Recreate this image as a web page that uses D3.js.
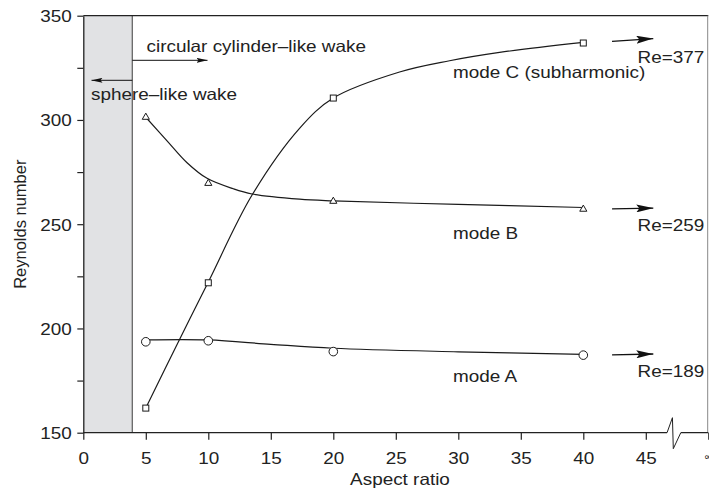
<!DOCTYPE html>
<html>
<head>
<meta charset="utf-8">
<title>Reynolds number vs aspect ratio</title>
<script src="https://d3js.org/d3.v7.min.js"></script>
<style>
  body { margin: 0; background: #fff; }
  svg { display: block; font-family: "Liberation Sans", Arial, Helvetica, sans-serif; }
  text { fill: #222; }
</style>
</head>
<body>
<div id="chart"></div>
<script>

const width = 709;
const height = 490;
const fs = 16.3;      // font size
const sx = 1.16;      // the original lettering is a bit wider than Arial

// measured points (aspect ratio, Re)
const aspect = [5, 10, 20, 40];
const modeA = [193.6, 194.1, 188.9, 187.2];
const modeB = [301.3, 269.6, 261.0, 257.2];
const modeC = [161.8, 221.9, 310.5, 336.9];

// fitted curves
const curveAx = [5, 10, 15, 20, 30, 40];
const curveAy = [194.5, 194.5, 192.4, 190.5, 188.8, 187.6];
const curveBx = [5, 6.7, 8.3, 9.9, 12, 13.5, 17.3, 20, 30, 40];
const curveBy = [301.3, 290, 279.5, 272, 267, 264.5, 262, 261.2, 259.5, 258];
const curveCx = [5, 7.6, 10, 13.5, 17.3, 20, 25.3, 29.3, 33.3, 40];
const curveCy = [161.8, 193.5, 222.3, 264, 296, 310.5, 323, 328.4, 332.4, 337.2];

// limit values shown by the arrows on the right
const limitLabels = ["Re=189", "Re=259", "Re=377"];
const limitLevels = [187.6, 257.6, 338.3];

const xTicks = [0, 5, 10, 15, 20, 25, 30, 35, 40, 45];
const yTicks = [150, 175, 200, 225, 250, 275, 300, 325, 350];
const yLabels = [150, 200, 250, 300, 350];

const x = d3.scaleLinear().domain([0, 50]).range([83.3, 708.3]);
const y = d3.scaleLinear().domain([150, 350]).range([432.7, 15.7]);

const svg = d3.select("#chart").append("svg")
  .attr("width", width).attr("height", height);

// horizontal label helper
function label(g, tx, ty, str, anchor) {
  return g.append("text")
    .attr("transform", `translate(${tx},${ty}) scale(${sx},1)`)
    .attr("text-anchor", anchor || "start")
    .attr("font-size", fs).text(str);
}

const defs = svg.append("defs");
defs.append("marker").attr("id", "bighead")
  .attr("viewBox", "0 0 17 8").attr("refX", 17).attr("refY", 4)
  .attr("markerWidth", 17).attr("markerHeight", 8)
  .attr("markerUnits", "userSpaceOnUse").attr("orient", "auto")
  .append("path").attr("d", "M0,0L17,4L0,8L3,4Z").attr("fill", "#111");
defs.append("marker").attr("id", "smallhead")
  .attr("viewBox", "0 0 11 5").attr("refX", 11).attr("refY", 2.5)
  .attr("markerWidth", 11).attr("markerHeight", 5)
  .attr("markerUnits", "userSpaceOnUse").attr("orient", "auto")
  .append("path").attr("d", "M0,0L11,2.5L0,5L2,2.5Z").attr("fill", "#111");

// shaded sphere-like region
svg.append("rect")
  .attr("x", x(0)).attr("y", y(350))
  .attr("width", x(3.92) - x(0)).attr("height", y(150) - y(350))
  .attr("fill", "#e1e2e4");
svg.append("line")
  .attr("x1", x(3.92)).attr("x2", x(3.92)).attr("y1", y(350)).attr("y2", y(150))
  .attr("stroke", "#666").attr("stroke-width", 1.3);

// frame: top black, right grey
svg.append("line").attr("x1", x(0)).attr("x2", x(50)).attr("y1", y(350)).attr("y2", y(350))
  .attr("stroke", "#222").attr("stroke-width", 1.3);
svg.append("line").attr("x1", x(50) - 0.6).attr("x2", x(50) - 0.6).attr("y1", y(350)).attr("y2", y(150))
  .attr("stroke", "#888").attr("stroke-width", 1);

// y axis
const yAxis = svg.append("g").attr("transform", `translate(${x(0)},0)`)
  .call(d3.axisLeft(y).tickValues(yTicks).tickSize(6).tickSizeOuter(0)
    .tickFormat(d => yLabels.includes(d) ? d : ""));
yAxis.select(".domain").attr("stroke", "#222").attr("stroke-width", 1.3);
yAxis.selectAll(".tick line").attr("stroke", "#222").attr("stroke-width", 1.2);
yAxis.selectAll(".tick text").attr("font-size", fs).attr("fill", "#222")
  .attr("x", null).attr("dy", "0.36em").attr("font-family", null)
  .attr("transform", `translate(-11.6,0) scale(${sx},1)`);

// x axis with break
const xAxis = svg.append("g").attr("transform", `translate(0,${y(150)})`)
  .call(d3.axisBottom(x).tickValues(xTicks.concat([50])).tickSize(7).tickSizeOuter(0)
    .tickFormat(d => xTicks.includes(d) ? d : ""));
xAxis.select(".domain").remove();
xAxis.selectAll(".tick line").attr("stroke", "#222").attr("stroke-width", 1.2);
xAxis.selectAll(".tick text").attr("font-size", fs).attr("fill", "#222")
  .attr("y", null).attr("dy", null).attr("font-family", null)
  .attr("transform", `translate(0,30.8) scale(${sx},1)`);
xAxis.append("path")
  .attr("d", `M${x(0)},0H${x(46.7)}M${x(47.8)},0H${x(50)}`)
  .attr("stroke", "#222").attr("stroke-width", 1.3);
xAxis.append("path")
  .attr("d", `M${x(46.7)},0L${x(47.13)},-15L${x(47.2)},16L${x(47.8)},0`)
  .attr("fill", "none").attr("stroke", "#222").attr("stroke-width", 1);
xAxis.append("text").attr("x", x(50)).attr("y", 27)
  .attr("text-anchor", "middle").attr("font-size", 10).text("\u221e");

// axis titles
label(svg, 400, 485, "Aspect ratio", "middle");
svg.append("text")
  .attr("transform", `translate(25.5,${(y(150) + y(350)) / 2}) rotate(-90)`)
  .attr("text-anchor", "middle").attr("font-size", 16.5).text("Reynolds number");

// curves
const line = d3.line().x(d => x(d[0])).y(d => y(d[1])).curve(d3.curveCatmullRom.alpha(0.5));
const curves = [
  d3.zip(curveAx, curveAy),
  d3.zip(curveBx, curveBy),
  d3.zip(curveCx, curveCy)
];
svg.append("g").selectAll("path").data(curves).join("path")
  .attr("d", line).attr("fill", "none").attr("stroke", "#1a1a1a").attr("stroke-width", 1.2);

// markers
const mk = svg.append("g").attr("fill", "#fff").attr("stroke", "#1a1a1a").attr("stroke-width", 1);
mk.selectAll("circle").data(d3.zip(aspect, modeA)).join("circle")
  .attr("cx", d => x(d[0])).attr("cy", d => y(d[1])).attr("r", 4.3);
mk.selectAll("rect").data(d3.zip(aspect, modeC)).join("rect")
  .attr("x", d => x(d[0]) - 3).attr("y", d => y(d[1]) - 3)
  .attr("width", 6).attr("height", 6);
mk.selectAll("path").data(d3.zip(aspect, modeB)).join("path")
  .attr("d", d3.symbol().type(d3.symbolTriangle).size(22))
  .attr("transform", d => `translate(${x(d[0])},${y(d[1])})`);

// right-hand arrows and limit labels
const arrows = svg.append("g");
arrows.selectAll("line").data(limitLevels).join("line")
  .attr("x1", x(42.3)).attr("x2", x(45.6))
  .attr("y1", (d, i) => y(d) + (i === 2 ? 1.2 : 0.5))
  .attr("y2", (d, i) => y(d) - (i === 2 ? 1.5 : 0.3))
  .attr("stroke", "#111").attr("stroke-width", 1.3)
  .attr("marker-end", "url(#bighead)");
limitLevels.forEach((d, i) => label(arrows, 637.5, y(d) + 23, limitLabels[i]));

// mode labels
const modeNames = ["mode A", "mode B", "mode C (subharmonic)"];
const modeLabelY = [382, 238.5, 78.3];
const ml = svg.append("g");
modeNames.forEach((s, i) => label(ml, 453, modeLabelY[i], s));

// wake regime annotations
svg.append("line").attr("x1", x(3.92)).attr("x2", 207.5).attr("y1", 60.3).attr("y2", 60.3)
  .attr("stroke", "#111").attr("stroke-width", 1).attr("marker-end", "url(#smallhead)");
svg.append("line").attr("x1", x(3.92)).attr("x2", 91.5).attr("y1", 80.3).attr("y2", 80.3)
  .attr("stroke", "#111").attr("stroke-width", 1).attr("marker-end", "url(#smallhead)");
label(svg, 146.5, 52.3, "circular cylinder\u2013like wake");
label(svg, 91, 100.3, "sphere\u2013like wake");

</script>
</body>
</html>
